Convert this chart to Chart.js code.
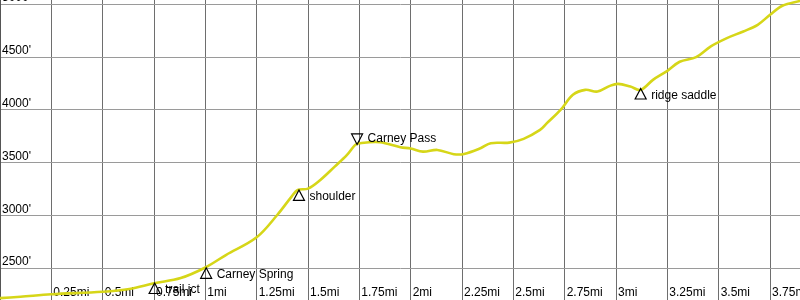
<!DOCTYPE html>
<html>
<head>
<meta charset="utf-8">
<script src="https://cdn.jsdelivr.net/npm/chart.js@4/dist/chart.umd.min.js"></script>
<style>
  html, body { margin: 0; padding: 0; background: #fff; }
  canvas { display: block; }
</style>
</head>
<body>
<canvas id="profile" width="800" height="300"></canvas>
<script>
// elevation profile, miles vs feet
const distance = [0, 0.10, 0.25, 0.50, 0.63, 0.75, 0.88, 1.00, 1.10, 1.25, 1.35, 1.42, 1.45, 1.50, 1.56, 1.63, 1.69, 1.73, 1.75, 1.85, 1.95, 2.00, 2.06, 2.13, 2.21, 2.26, 2.34, 2.39, 2.48, 2.55, 2.63, 2.66, 2.73, 2.79, 2.85, 2.91, 2.97, 3.01, 3.07, 3.12, 3.18, 3.25, 3.31, 3.39, 3.46, 3.54, 3.62, 3.69, 3.75, 3.81, 3.90];
const elevation = [2218, 2231, 2254, 2278, 2304, 2358, 2408, 2508, 2626, 2794, 3005, 3179, 3242, 3255, 3337, 3463, 3574, 3669, 3685, 3694, 3647, 3634, 3605, 3621, 3581, 3583, 3637, 3685, 3690, 3726, 3811, 3868, 4000, 4143, 4190, 4174, 4228, 4247, 4221, 4190, 4285, 4370, 4456, 4500, 4600, 4680, 4743, 4806, 4901, 4986, 5034];

const distTicks = [0.25, 0.5, 0.75, 1, 1.25, 1.5, 1.75, 2, 2.25, 2.5, 2.75, 3, 3.25, 3.5, 3.75];
const distLabels = ["0.25mi", "0.5mi", "0.75mi", "1mi", "1.25mi", "1.5mi", "1.75mi", "2mi", "2.25mi", "2.5mi", "2.75mi", "3mi", "3.25mi", "3.5mi", "3.75mi"];
const elevTicks = [2500, 3000, 3500, 4000, 4500, 5000];
const elevLabels = ["2500'", "3000'", "3500'", "4000'", "4500'", "5000'"];

// waypoints: up = summit-ish marker pointing up, down = pass marker
const wpNames = ["trail jct", "Carney Spring", "shoulder", "Carney Pass", "ridge saddle"];
const wpDist = [0.753, 1.004, 1.456, 1.739, 3.12];
const wpElev = [2361, 2505, 3242, 3673, 4203];
const wpDir = ["up", "up", "up", "down", "up"];

const FONT = '12px "Liberation Sans", Arial, sans-serif';

const axisLabels = {
  id: "axisLabels",
  beforeDatasetsDraw(chart) {
    const { ctx, chartArea, scales: { x, y } } = chart;
    ctx.save();
    ctx.font = FONT;
    ctx.fillStyle = "#000";
    ctx.textBaseline = "alphabetic";
    ctx.textAlign = "left";
    distTicks.forEach((d, i) => {
      ctx.fillText(distLabels[i], x.getPixelForValue(d) + 2, chartArea.bottom - 4);
    });
    elevTicks.forEach((e, i) => {
      ctx.fillText(elevLabels[i], chartArea.left + 2, y.getPixelForValue(e) - 3);
    });
    ctx.restore();
  },
};

const waypoints = {
  id: "waypoints",
  afterDatasetsDraw(chart) {
    const { ctx, scales: { x, y } } = chart;
    ctx.save();
    ctx.font = FONT;
    ctx.fillStyle = "#000";
    ctx.strokeStyle = "#000";
    ctx.lineWidth = 1.2;
    ctx.textAlign = "left";
    ctx.textBaseline = "alphabetic";
    wpNames.forEach((name, i) => {
      const px = x.getPixelForValue(wpDist[i]);
      const py = y.getPixelForValue(wpElev[i]);
      ctx.beginPath();
      if (wpDir[i] === "up") {
        ctx.moveTo(px, py);
        ctx.lineTo(px + 5.5, py + 10.5);
        ctx.lineTo(px - 5.5, py + 10.5);
      } else {
        ctx.moveTo(px, py);
        ctx.lineTo(px + 5.5, py - 10.5);
        ctx.lineTo(px - 5.5, py - 10.5);
      }
      ctx.closePath();
      ctx.stroke();
      const ty = wpDir[i] === "up" ? py + 10.5 : py - 2.5;
      ctx.fillText(name, px + 10.5, ty);
    });
    ctx.restore();
  },
};

new Chart(document.getElementById("profile").getContext("2d"), {
  type: "line",
  data: {
    datasets: [
      {
        data: distance.map((d, i) => ({ x: d, y: elevation[i] })),
        borderColor: "rgb(214, 214, 24)",
        borderWidth: 2.6,
        pointRadius: 0,
        fill: false,
        tension: 0.35,
      },
    ],
  },
  options: {
    responsive: false,
    animation: false,
    layout: { padding: 0 },
    plugins: { legend: { display: false }, tooltip: { enabled: false } },
    scales: {
      x: {
        type: "linear",
        min: 0,
        max: 3.896,
        afterBuildTicks: (s) => { s.ticks = distTicks.map((v) => ({ value: v })); },
        ticks: { display: false },
        grid: { color: "#6e6e6e", drawTicks: false },
        border: { color: "#555" },
      },
      y: {
        min: 2200,
        max: 5041,
        afterBuildTicks: (s) => { s.ticks = elevTicks.map((v) => ({ value: v })); },
        ticks: { display: false },
        grid: { color: "#9a9a9a", drawTicks: false },
        border: { color: "#555" },
      },
    },
  },
  plugins: [axisLabels, waypoints],
});
</script>
</body>
</html>
